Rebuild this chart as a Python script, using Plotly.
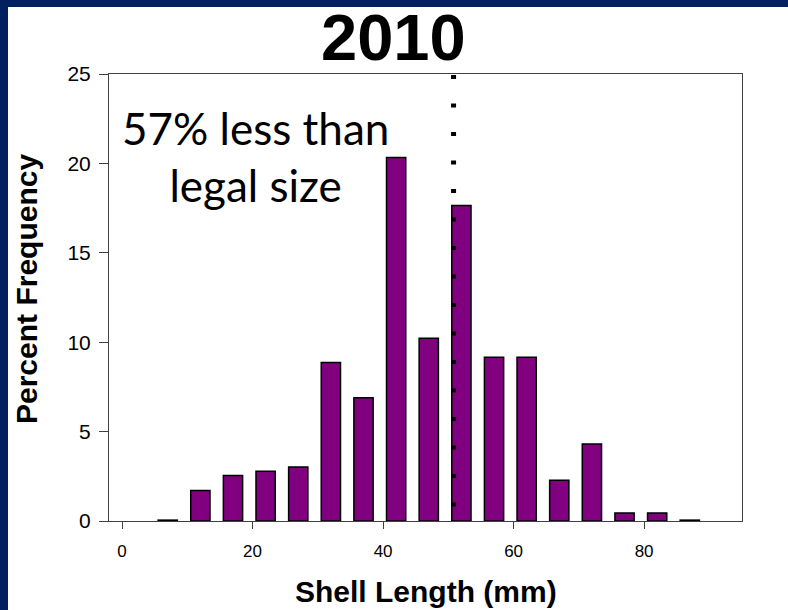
import plotly.graph_objects as go

# ---- data ----
bin_centers = [7, 12, 17, 22, 27, 32, 37, 42, 47, 52, 57, 62, 67, 72, 77, 82, 87]
percent_freq = [0.05, 1.70, 2.54, 2.78, 3.02, 8.86, 6.90, 20.33, 10.22, 17.64,
                9.16, 9.16, 2.28, 4.30, 0.45, 0.45, 0.05]
x_ticks = [0, 20, 40, 60, 80]
y_ticks = [0, 5, 10, 15, 20, 25]
legal_size = 50.8
title_text = "2010"
note_text = "57% less than<br>legal size"
x_title = "Shell Length (mm)"
y_title = "Percent Frequency"

W, H = 788, 610
ML, MR, MT, MB = 109, 46, 74, 89
PW = W - ML - MR
PH = H - MT - MB


def pxx(px):
    return (px - ML) / PW


def pxy(py):
    return (H - MB - py) / PH


NAVY = "#00205F"

fig = go.Figure()
fig.add_trace(go.Bar(
    x=bin_centers, y=percent_freq, width=2.95,
    marker=dict(color="#800080", line=dict(color="black", width=1.5)),
    showlegend=False, hoverinfo="skip",
))

fig.update_layout(
    width=W, height=H,
    margin=dict(l=ML, r=MR, t=MT, b=MB, pad=0),
    paper_bgcolor="white", plot_bgcolor="white",
    showlegend=False,
    xaxis=dict(
        range=[-2, 95], tickvals=x_ticks, ticks="outside", ticklen=7,
        tickcolor="#404040", tickwidth=1, showline=True, linecolor="#404040",
        linewidth=1, mirror=True, showgrid=False, zeroline=False,
        tickfont=dict(family="Liberation Sans, Arial", size=17, color="black"),
        ticklabelstandoff=8,
    ),
    yaxis=dict(
        range=[0, 25], tickvals=y_ticks, ticks="outside", ticklen=9,
        tickcolor="#404040", tickwidth=1, showline=True, linecolor="#404040",
        linewidth=1, mirror=True, showgrid=False, zeroline=False,
        tickfont=dict(family="Liberation Sans, Arial", size=21, color="black"),
        ticklabelstandoff=4,
    ),
    shapes=[
        dict(type="line", xref="x", yref="y", x0=legal_size, x1=legal_size,
             y0=24.94, y1=0, line=dict(color="black", width=5, dash="4px,24.5px"),
             layer="above"),
        dict(type="rect", xref="paper", yref="paper", x0=pxx(0), x1=pxx(W),
             y0=pxy(7), y1=pxy(0), fillcolor=NAVY, line=dict(width=0), layer="above"),
        dict(type="rect", xref="paper", yref="paper", x0=pxx(0), x1=pxx(8),
             y0=pxy(H), y1=pxy(0), fillcolor=NAVY, line=dict(width=0), layer="above"),
    ],
    annotations=[
        dict(text="<b>" + title_text + "</b>", xref="paper", yref="paper",
             x=pxx(393), y=pxy(-1), xanchor="center", yanchor="top",
             showarrow=False,
             font=dict(family="Liberation Sans, Arial", size=65, color="black")),
        dict(text=note_text, xref="paper", yref="paper",
             x=pxx(255), y=pxy(156), xanchor="center", yanchor="middle",
             showarrow=False, align="center",
             font=dict(family="Lato, Liberation Sans", size=44, color="black")),
        dict(text="<b>" + x_title + "</b>", xref="paper", yref="paper",
             x=0.5, y=pxy(591), xanchor="center", yanchor="middle",
             showarrow=False,
             font=dict(family="Liberation Sans, Arial", size=30, color="black")),
        dict(text="<b>" + y_title + "</b>", xref="paper", yref="paper",
             x=pxx(26), y=pxy(289), xanchor="center", yanchor="middle",
             showarrow=False, textangle=-90,
             font=dict(family="Liberation Sans, Arial", size=30, color="black")),
    ],
)

fig.write_html(
    "out.html",
    config={"displayModeBar": False},
    post_script="document.body.style.margin='0';document.body.style.overflow='hidden';",
)
